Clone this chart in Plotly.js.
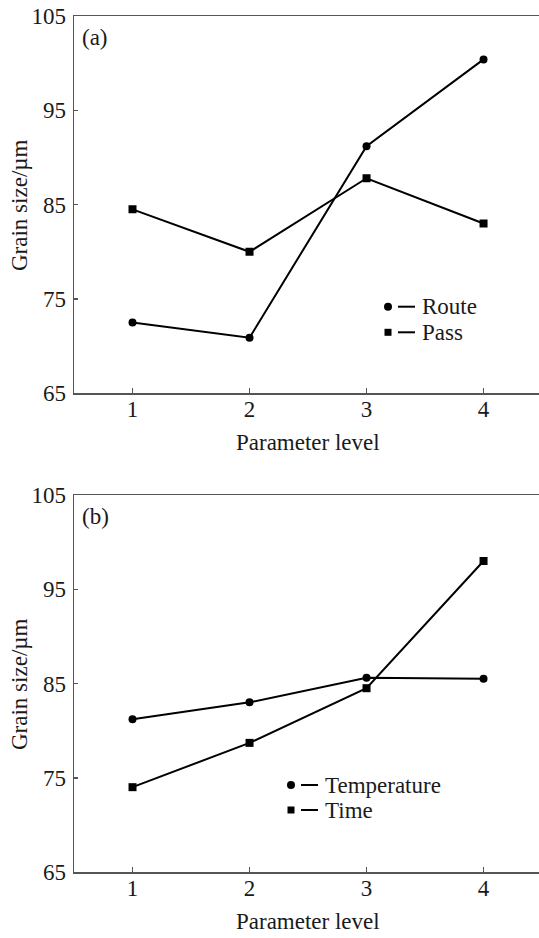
<!DOCTYPE html>
<html>
<head>
<meta charset="utf-8">
<script src="https://cdn.plot.ly/plotly-3.0.1.min.js"></script>
<style>html,body{margin:0;padding:0;background:#fff;}#chart{width:539px;height:938px;}</style>
</head>
<body>
<div id="chart"></div>
<script>
// ---- data ----
const levels = [1, 2, 3, 4];
const tickLabelsX = ['1', '2', '3', '4'];
const tickValsY = [65, 75, 85, 95, 105];
const route = [72.5, 70.9, 91.2, 100.4];
const pass = [84.5, 80.0, 87.8, 83.0];
const temperature = [81.2, 83.0, 85.6, 85.5];
const time = [74.0, 78.7, 84.5, 98.0];
const seriesNames = ['Route', 'Pass', 'Temperature', 'Time'];
const panelLabels = ['(a)', '(b)'];
const xTitle = 'Parameter level';
const yTitle = 'Grain size/\u00b5m';

// ---- layout helpers ----
const W = 539, H = 938;
const mL = 74, mR = 0, mT = 16, mB = 66;
const plotW = W - mL - mR, plotH = H - mT - mB;
const P = px => (px - mL) / plotW;
const Q = py => (H - mB - py) / plotH;

const FONT = '"Liberation Serif", "Times New Roman", Times, serif';
const FS = 23;
const TXT = '#1a1a1a';

function lineTrace(y, name, symbol, xa, ya) {
  return {
    x: levels, y: y, name: name, type: 'scatter', mode: 'lines+markers',
    xaxis: xa, yaxis: ya, showlegend: false,
    line: {color: '#000', width: 2},
    marker: {symbol: symbol, size: 8, color: '#000'}
  };
}

const traces = [
  lineTrace(route, seriesNames[0], 'circle', 'x', 'y'),
  lineTrace(pass, seriesNames[1], 'square', 'x', 'y'),
  lineTrace(temperature, seriesNames[2], 'circle', 'x2', 'y2'),
  lineTrace(time, seriesNames[3], 'square', 'x2', 'y2')
];

function xaxisDef(anchor) {
  return {
    range: [0.5, 4.474], tickvals: levels, ticktext: tickLabelsX,
    ticks: 'inside', ticklen: 5, tickwidth: 1.5, tickcolor: '#555',
    showline: true, mirror: true, linecolor: '#555', linewidth: 1.5,
    showgrid: false, zeroline: false, anchor: anchor,
    tickfont: {family: FONT, size: FS, color: TXT},
    ticklabelstandoff: -5
  };
}
function yaxisDef(domain, anchor) {
  return {
    range: [65, 105], tickvals: tickValsY, domain: domain, anchor: anchor,
    ticks: 'inside', ticklen: 4, tickwidth: 1.5, tickcolor: '#555',
    showline: true, mirror: false, linecolor: '#555', linewidth: 1.5,
    showgrid: false, zeroline: false,
    tickfont: {family: FONT, size: FS, color: TXT},
    ticklabelstandoff: 2
  };
}

const topDomain = [Q(393.3), 1];
const botDomain = [0, Q(495)];

const shapes = [];
const annotations = [];
function legendItem(cx, cy, symbol, text) {
  shapes.push({
    type: symbol === 'circle' ? 'circle' : 'rect',
    xref: 'paper', yref: 'paper', xsizemode: 'pixel', ysizemode: 'pixel',
    xanchor: P(cx), yanchor: Q(cy),
    x0: symbol === 'circle' ? -4 : -3.5, x1: symbol === 'circle' ? 4 : 3.5,
    y0: symbol === 'circle' ? -4 : -3.5, y1: symbol === 'circle' ? 4 : 3.5,
    fillcolor: '#000', line: {width: 0}
  });
  shapes.push({
    type: 'line', xref: 'paper', yref: 'paper',
    x0: P(cx + 10), x1: P(cx + 27), y0: Q(cy), y1: Q(cy),
    line: {color: '#000', width: 2}
  });
  annotations.push({
    xref: 'paper', yref: 'paper', x: P(cx + 32), y: Q(cy),
    xanchor: 'left', yanchor: 'middle', showarrow: false, text: text,
    font: {family: FONT, size: FS, color: TXT}
  });
}
legendItem(388, 306.7, 'circle', seriesNames[0]);
legendItem(388, 332.3, 'square', seriesNames[1]);
legendItem(291, 785, 'circle', seriesNames[2]);
legendItem(291, 810, 'square', seriesNames[3]);

function textAt(px, py, text, xanchor, angle) {
  annotations.push({xref: 'paper', yref: 'paper', x: P(px), y: Q(py), xanchor: xanchor, yanchor: 'middle',
    textangle: angle || 0,
    showarrow: false, text: text, font: {family: FONT, size: FS, color: TXT}});
}
textAt(80, 37, panelLabels[0], 'left');
textAt(80, 516, panelLabels[1], 'left');
textAt(308, 442, xTitle, 'center');
textAt(308, 921, xTitle, 'center');
textAt(19, 205, yTitle, 'center', -90);
textAt(19, 684, yTitle, 'center', -90);

const layout = {
  width: W, height: H,
  margin: {l: mL, r: mR, t: mT, b: mB, pad: 0},
  paper_bgcolor: '#fff', plot_bgcolor: '#fff',
  showlegend: false,
  xaxis: xaxisDef('y'),
  yaxis: yaxisDef(topDomain, 'x'),
  xaxis2: xaxisDef('y2'),
  yaxis2: yaxisDef(botDomain, 'x2'),
  shapes: shapes,
  annotations: annotations
};

Plotly.newPlot('chart', traces, layout, {displayModeBar: false, staticPlot: true});
</script>
</body>
</html>
